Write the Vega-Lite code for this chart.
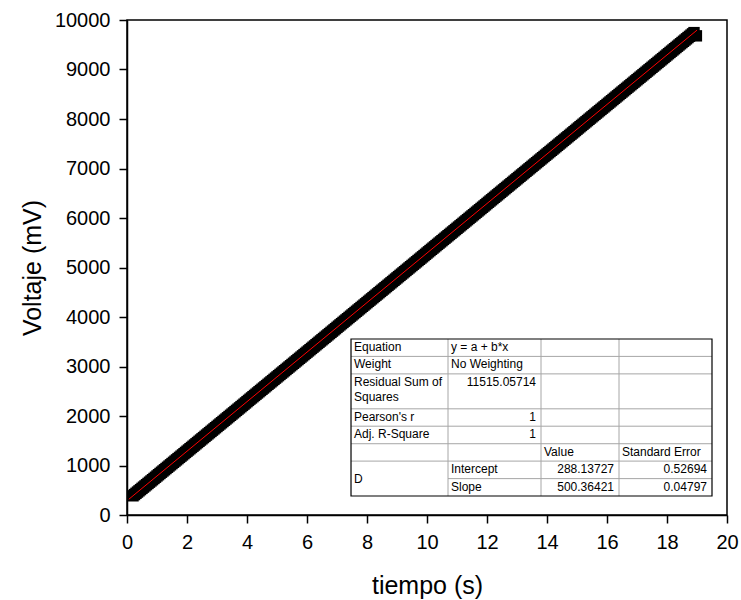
{
  "$schema": "https://vega.github.io/schema/vega-lite/v6.json",
  "width": 600,
  "height": 495,
  "autosize": {"type": "none"},
  "padding": {"left": 127, "top": 20, "right": 14, "bottom": 85},
  "background": "white",
  "config": {
    "view": {"stroke": "black", "strokeWidth": 1.5},
    "font": "Liberation Sans",
    "axis": {
      "grid": false,
      "domainColor": "black",
      "domainWidth": 1.5,
      "tickColor": "black",
      "tickWidth": 1.5,
      "labelColor": "black",
      "labelFont": "Liberation Sans",
      "labelFontSize": 20,
      "labelPadding": 9,
      "labelOverlap": false,
      "labelFlush": false,
      "titleColor": "black",
      "titleFont": "Liberation Sans",
      "titleFontSize": 25,
      "titleFontWeight": "normal"
    }
  },
  "datasets": {
    "meas": [
      {"t":0.2,"v":388},{"t":0.25,"v":413},{"t":0.3,"v":438},{"t":0.35,"v":463},{"t":0.4,"v":488},{"t":0.45,"v":513},{"t":0.5,"v":538},{"t":0.55,"v":563},{"t":0.6,"v":588},{"t":0.65,"v":613},{"t":0.7,"v":638},{"t":0.75,"v":663},{"t":0.8,"v":688},{"t":0.85,"v":713},{"t":0.9,"v":738},{"t":0.95,"v":763},
      {"t":1.0,"v":789},{"t":1.05,"v":814},{"t":1.1,"v":839},{"t":1.15,"v":864},{"t":1.2,"v":889},{"t":1.25,"v":914},{"t":1.3,"v":939},{"t":1.35,"v":964},{"t":1.4,"v":989},{"t":1.45,"v":1014},{"t":1.5,"v":1039},{"t":1.55,"v":1064},{"t":1.6,"v":1089},{"t":1.65,"v":1114},{"t":1.7,"v":1139},{"t":1.75,"v":1164},{"t":1.8,"v":1189},{"t":1.85,"v":1214},{"t":1.9,"v":1239},{"t":1.95,"v":1264},
      {"t":2.0,"v":1289},{"t":2.05,"v":1314},{"t":2.1,"v":1339},{"t":2.15,"v":1364},{"t":2.2,"v":1389},{"t":2.25,"v":1414},{"t":2.3,"v":1439},{"t":2.35,"v":1464},{"t":2.4,"v":1489},{"t":2.45,"v":1514},{"t":2.5,"v":1539},{"t":2.55,"v":1564},{"t":2.6,"v":1589},{"t":2.65,"v":1614},{"t":2.7,"v":1639},{"t":2.75,"v":1664},{"t":2.8,"v":1689},{"t":2.85,"v":1714},{"t":2.9,"v":1739},{"t":2.95,"v":1764},
      {"t":3.0,"v":1789},{"t":3.05,"v":1814},{"t":3.1,"v":1839},{"t":3.15,"v":1864},{"t":3.2,"v":1889},{"t":3.25,"v":1914},{"t":3.3,"v":1939},{"t":3.35,"v":1964},{"t":3.4,"v":1989},{"t":3.45,"v":2014},{"t":3.5,"v":2039},{"t":3.55,"v":2064},{"t":3.6,"v":2089},{"t":3.65,"v":2114},{"t":3.7,"v":2139},{"t":3.75,"v":2164},{"t":3.8,"v":2189},{"t":3.85,"v":2214},{"t":3.9,"v":2239},{"t":3.95,"v":2264},
      {"t":4.0,"v":2290},{"t":4.05,"v":2315},{"t":4.1,"v":2340},{"t":4.15,"v":2365},{"t":4.2,"v":2390},{"t":4.25,"v":2415},{"t":4.3,"v":2440},{"t":4.35,"v":2465},{"t":4.4,"v":2490},{"t":4.45,"v":2515},{"t":4.5,"v":2540},{"t":4.55,"v":2565},{"t":4.6,"v":2590},{"t":4.65,"v":2615},{"t":4.7,"v":2640},{"t":4.75,"v":2665},{"t":4.8,"v":2690},{"t":4.85,"v":2715},{"t":4.9,"v":2740},{"t":4.95,"v":2765},
      {"t":5.0,"v":2790},{"t":5.05,"v":2815},{"t":5.1,"v":2840},{"t":5.15,"v":2865},{"t":5.2,"v":2890},{"t":5.25,"v":2915},{"t":5.3,"v":2940},{"t":5.35,"v":2965},{"t":5.4,"v":2990},{"t":5.45,"v":3015},{"t":5.5,"v":3040},{"t":5.55,"v":3065},{"t":5.6,"v":3090},{"t":5.65,"v":3115},{"t":5.7,"v":3140},{"t":5.75,"v":3165},{"t":5.8,"v":3190},{"t":5.85,"v":3215},{"t":5.9,"v":3240},{"t":5.95,"v":3265},
      {"t":6.0,"v":3290},{"t":6.05,"v":3315},{"t":6.1,"v":3340},{"t":6.15,"v":3365},{"t":6.2,"v":3390},{"t":6.25,"v":3415},{"t":6.3,"v":3440},{"t":6.35,"v":3465},{"t":6.4,"v":3490},{"t":6.45,"v":3515},{"t":6.5,"v":3540},{"t":6.55,"v":3565},{"t":6.6,"v":3590},{"t":6.65,"v":3615},{"t":6.7,"v":3640},{"t":6.75,"v":3665},{"t":6.8,"v":3690},{"t":6.85,"v":3715},{"t":6.9,"v":3740},{"t":6.95,"v":3765},
      {"t":7.0,"v":3791},{"t":7.05,"v":3816},{"t":7.1,"v":3841},{"t":7.15,"v":3866},{"t":7.2,"v":3891},{"t":7.25,"v":3916},{"t":7.3,"v":3941},{"t":7.35,"v":3966},{"t":7.4,"v":3991},{"t":7.45,"v":4016},{"t":7.5,"v":4041},{"t":7.55,"v":4066},{"t":7.6,"v":4091},{"t":7.65,"v":4116},{"t":7.7,"v":4141},{"t":7.75,"v":4166},{"t":7.8,"v":4191},{"t":7.85,"v":4216},{"t":7.9,"v":4241},{"t":7.95,"v":4266},
      {"t":8.0,"v":4291},{"t":8.05,"v":4316},{"t":8.1,"v":4341},{"t":8.15,"v":4366},{"t":8.2,"v":4391},{"t":8.25,"v":4416},{"t":8.3,"v":4441},{"t":8.35,"v":4466},{"t":8.4,"v":4491},{"t":8.45,"v":4516},{"t":8.5,"v":4541},{"t":8.55,"v":4566},{"t":8.6,"v":4591},{"t":8.65,"v":4616},{"t":8.7,"v":4641},{"t":8.75,"v":4666},{"t":8.8,"v":4691},{"t":8.85,"v":4716},{"t":8.9,"v":4741},{"t":8.95,"v":4766},
      {"t":9.0,"v":4791},{"t":9.05,"v":4816},{"t":9.1,"v":4841},{"t":9.15,"v":4866},{"t":9.2,"v":4891},{"t":9.25,"v":4916},{"t":9.3,"v":4941},{"t":9.35,"v":4966},{"t":9.4,"v":4991},{"t":9.45,"v":5016},{"t":9.5,"v":5041},{"t":9.55,"v":5066},{"t":9.6,"v":5091},{"t":9.65,"v":5116},{"t":9.7,"v":5141},{"t":9.75,"v":5166},{"t":9.8,"v":5191},{"t":9.85,"v":5216},{"t":9.9,"v":5241},{"t":9.95,"v":5266},
      {"t":10.0,"v":5292},{"t":10.05,"v":5317},{"t":10.1,"v":5342},{"t":10.15,"v":5367},{"t":10.2,"v":5392},{"t":10.25,"v":5417},{"t":10.3,"v":5442},{"t":10.35,"v":5467},{"t":10.4,"v":5492},{"t":10.45,"v":5517},{"t":10.5,"v":5542},{"t":10.55,"v":5567},{"t":10.6,"v":5592},{"t":10.65,"v":5617},{"t":10.7,"v":5642},{"t":10.75,"v":5667},{"t":10.8,"v":5692},{"t":10.85,"v":5717},{"t":10.9,"v":5742},{"t":10.95,"v":5767},
      {"t":11.0,"v":5792},{"t":11.05,"v":5817},{"t":11.1,"v":5842},{"t":11.15,"v":5867},{"t":11.2,"v":5892},{"t":11.25,"v":5917},{"t":11.3,"v":5942},{"t":11.35,"v":5967},{"t":11.4,"v":5992},{"t":11.45,"v":6017},{"t":11.5,"v":6042},{"t":11.55,"v":6067},{"t":11.6,"v":6092},{"t":11.65,"v":6117},{"t":11.7,"v":6142},{"t":11.75,"v":6167},{"t":11.8,"v":6192},{"t":11.85,"v":6217},{"t":11.9,"v":6242},{"t":11.95,"v":6267},
      {"t":12.0,"v":6293},{"t":12.05,"v":6318},{"t":12.1,"v":6343},{"t":12.15,"v":6368},{"t":12.2,"v":6393},{"t":12.25,"v":6418},{"t":12.3,"v":6443},{"t":12.35,"v":6468},{"t":12.4,"v":6493},{"t":12.45,"v":6518},{"t":12.5,"v":6543},{"t":12.55,"v":6568},{"t":12.6,"v":6593},{"t":12.65,"v":6618},{"t":12.7,"v":6643},{"t":12.75,"v":6668},{"t":12.8,"v":6693},{"t":12.85,"v":6718},{"t":12.9,"v":6743},{"t":12.95,"v":6768},
      {"t":13.0,"v":6793},{"t":13.05,"v":6818},{"t":13.1,"v":6843},{"t":13.15,"v":6868},{"t":13.2,"v":6893},{"t":13.25,"v":6918},{"t":13.3,"v":6943},{"t":13.35,"v":6968},{"t":13.4,"v":6993},{"t":13.45,"v":7018},{"t":13.5,"v":7043},{"t":13.55,"v":7068},{"t":13.6,"v":7093},{"t":13.65,"v":7118},{"t":13.7,"v":7143},{"t":13.75,"v":7168},{"t":13.8,"v":7193},{"t":13.85,"v":7218},{"t":13.9,"v":7243},{"t":13.95,"v":7268},
      {"t":14.0,"v":7293},{"t":14.05,"v":7318},{"t":14.1,"v":7343},{"t":14.15,"v":7368},{"t":14.2,"v":7393},{"t":14.25,"v":7418},{"t":14.3,"v":7443},{"t":14.35,"v":7468},{"t":14.4,"v":7493},{"t":14.45,"v":7518},{"t":14.5,"v":7543},{"t":14.55,"v":7568},{"t":14.6,"v":7593},{"t":14.65,"v":7618},{"t":14.7,"v":7643},{"t":14.75,"v":7668},{"t":14.8,"v":7693},{"t":14.85,"v":7718},{"t":14.9,"v":7743},{"t":14.95,"v":7768},
      {"t":15.0,"v":7794},{"t":15.05,"v":7819},{"t":15.1,"v":7844},{"t":15.15,"v":7869},{"t":15.2,"v":7894},{"t":15.25,"v":7919},{"t":15.3,"v":7944},{"t":15.35,"v":7969},{"t":15.4,"v":7994},{"t":15.45,"v":8019},{"t":15.5,"v":8044},{"t":15.55,"v":8069},{"t":15.6,"v":8094},{"t":15.65,"v":8119},{"t":15.7,"v":8144},{"t":15.75,"v":8169},{"t":15.8,"v":8194},{"t":15.85,"v":8219},{"t":15.9,"v":8244},{"t":15.95,"v":8269},
      {"t":16.0,"v":8294},{"t":16.05,"v":8319},{"t":16.1,"v":8344},{"t":16.15,"v":8369},{"t":16.2,"v":8394},{"t":16.25,"v":8419},{"t":16.3,"v":8444},{"t":16.35,"v":8469},{"t":16.4,"v":8494},{"t":16.45,"v":8519},{"t":16.5,"v":8544},{"t":16.55,"v":8569},{"t":16.6,"v":8594},{"t":16.65,"v":8619},{"t":16.7,"v":8644},{"t":16.75,"v":8669},{"t":16.8,"v":8694},{"t":16.85,"v":8719},{"t":16.9,"v":8744},{"t":16.95,"v":8769},
      {"t":17.0,"v":8794},{"t":17.05,"v":8819},{"t":17.1,"v":8844},{"t":17.15,"v":8869},{"t":17.2,"v":8894},{"t":17.25,"v":8919},{"t":17.3,"v":8944},{"t":17.35,"v":8969},{"t":17.4,"v":8994},{"t":17.45,"v":9019},{"t":17.5,"v":9044},{"t":17.55,"v":9069},{"t":17.6,"v":9094},{"t":17.65,"v":9119},{"t":17.7,"v":9144},{"t":17.75,"v":9169},{"t":17.8,"v":9194},{"t":17.85,"v":9219},{"t":17.9,"v":9244},{"t":17.95,"v":9269},
      {"t":18.0,"v":9295},{"t":18.05,"v":9320},{"t":18.1,"v":9345},{"t":18.15,"v":9370},{"t":18.2,"v":9395},{"t":18.25,"v":9420},{"t":18.3,"v":9445},{"t":18.35,"v":9470},{"t":18.4,"v":9495},{"t":18.45,"v":9520},{"t":18.5,"v":9545},{"t":18.55,"v":9570},{"t":18.6,"v":9595},{"t":18.65,"v":9620},{"t":18.7,"v":9645},{"t":18.75,"v":9670},{"t":18.8,"v":9695},{"t":18.85,"v":9720},{"t":18.9,"v":9745},
      {"t":18.98,"v":9680}
    ],
    "fit": [
      {"t": 0.06, "v": 318},
      {"t": 19.0, "v": 9795}
    ],
    "box": [
      {"x1": 7.467, "x2": 19.5, "y1": 3556, "y2": 384}
    ],
    "lines": [
      {"x1": 7.467, "x2": 19.5, "y1": 3204, "y2": 3204},
      {"x1": 7.467, "x2": 19.5, "y1": 2851, "y2": 2851},
      {"x1": 7.467, "x2": 19.5, "y1": 2145, "y2": 2145},
      {"x1": 7.467, "x2": 19.5, "y1": 1794, "y2": 1794},
      {"x1": 7.467, "x2": 19.5, "y1": 1440, "y2": 1440},
      {"x1": 7.467, "x2": 19.5, "y1": 1089, "y2": 1089},
      {"x1": 10.7, "x2": 19.5, "y1": 735, "y2": 735},
      {"x1": 10.7, "x2": 10.7, "y1": 3556, "y2": 384},
      {"x1": 13.8, "x2": 13.8, "y1": 3556, "y2": 384},
      {"x1": 16.4, "x2": 16.4, "y1": 3556, "y2": 384}
    ],
    "leftText": [
      {"label": "Equation", "x": 7.467, "y": 3556},
      {"label": "y = a + b*x", "x": 10.7, "y": 3556},
      {"label": "Weight", "x": 7.467, "y": 3204},
      {"label": "No Weighting", "x": 10.7, "y": 3204},
      {"label": "Residual Sum of\nSquares", "x": 7.467, "y": 2851},
      {"label": "Pearson's r", "x": 7.467, "y": 2145},
      {"label": "Adj. R-Square", "x": 7.467, "y": 1794},
      {"label": "Value", "x": 13.8, "y": 1440},
      {"label": "Standard Error", "x": 16.4, "y": 1440},
      {"label": "Intercept", "x": 10.7, "y": 1089},
      {"label": "Slope", "x": 10.7, "y": 735}
    ],
    "rightText": [
      {"label": "11515.05714", "x": 13.8, "y": 2851},
      {"label": "1", "x": 13.8, "y": 2145},
      {"label": "1", "x": 13.8, "y": 1794},
      {"label": "288.13727", "x": 16.4, "y": 1089},
      {"label": "0.52694", "x": 19.5, "y": 1089},
      {"label": "500.36421", "x": 16.4, "y": 735},
      {"label": "0.04797", "x": 19.5, "y": 735}
    ],
    "groupText": [
      {"label": "D", "x": 7.467, "y": 736.5}
    ]
  },
  "layer": [
    {
      "data": {"name": "meas"},
      "mark": {"type": "point", "shape": "square", "filled": true, "color": "black", "size": 130, "opacity": 1},
      "encoding": {
        "x": {
          "field": "t", "type": "quantitative",
          "scale": {"domain": [0, 20], "nice": false, "zero": false},
          "axis": {
            "title": "tiempo (s)",
            "values": [0,1,2,3,4,5,6,7,8,9,10,11,12,13,14,15,16,17,18,19,20],
            "labelExpr": "datum.value % 2 === 0 ? datum.label : ''",
            "tickSize": {"condition": {"test": "datum.value % 2 !== 0", "value": 4}, "value": 8},
            "titlePadding": 21
          }
        },
        "y": {
          "field": "v", "type": "quantitative",
          "scale": {"domain": [0, 10000], "nice": false},
          "axis": {
            "title": "Voltaje (mV)",
            "format": "d",
            "values": [0,500,1000,1500,2000,2500,3000,3500,4000,4500,5000,5500,6000,6500,7000,7500,8000,8500,9000,9500,10000],
            "labelExpr": "datum.value % 1000 === 0 ? datum.label : ''",
            "tickSize": {"condition": {"test": "datum.value % 1000 !== 0", "value": 4}, "value": 8},
            "titlePadding": 9
          }
        }
      }
    },
    {
      "data": {"name": "fit"},
      "mark": {"type": "line", "color": "#ff0000", "strokeWidth": 1},
      "encoding": {
        "x": {"field": "t", "type": "quantitative"},
        "y": {"field": "v", "type": "quantitative"}
      }
    },
    {
      "data": {"name": "box"},
      "mark": {"type": "rect", "fill": "white", "stroke": null},
      "encoding": {
        "x": {"field": "x1", "type": "quantitative"},
        "x2": {"field": "x2"},
        "y": {"field": "y1", "type": "quantitative"},
        "y2": {"field": "y2"}
      }
    },
    {
      "data": {"name": "lines"},
      "mark": {"type": "rule", "color": "#a6a6a6", "strokeWidth": 1},
      "encoding": {
        "x": {"field": "x1", "type": "quantitative"},
        "x2": {"field": "x2"},
        "y": {"field": "y1", "type": "quantitative"},
        "y2": {"field": "y2"}
      }
    },
    {
      "data": {"name": "box"},
      "mark": {"type": "rect", "fill": null, "fillOpacity": 0, "stroke": "black", "strokeWidth": 1.2},
      "encoding": {
        "x": {"field": "x1", "type": "quantitative"},
        "x2": {"field": "x2"},
        "y": {"field": "y1", "type": "quantitative"},
        "y2": {"field": "y2"}
      }
    },
    {
      "data": {"name": "leftText"},
      "mark": {"type": "text", "align": "left", "baseline": "top", "dx": 3, "dy": 3, "fontSize": 12, "font": "Liberation Sans", "color": "black", "lineBreak": "\n", "lineHeight": 15.5},
      "encoding": {
        "x": {"field": "x", "type": "quantitative"},
        "y": {"field": "y", "type": "quantitative"},
        "text": {"field": "label"}
      }
    },
    {
      "data": {"name": "rightText"},
      "mark": {"type": "text", "align": "right", "baseline": "top", "dx": -5, "dy": 3, "fontSize": 12, "font": "Liberation Sans", "color": "black"},
      "encoding": {
        "x": {"field": "x", "type": "quantitative"},
        "y": {"field": "y", "type": "quantitative"},
        "text": {"field": "label"}
      }
    },
    {
      "data": {"name": "groupText"},
      "mark": {"type": "text", "align": "left", "baseline": "middle", "dx": 3, "fontSize": 12, "font": "Liberation Sans", "color": "black"},
      "encoding": {
        "x": {"field": "x", "type": "quantitative"},
        "y": {"field": "y", "type": "quantitative"},
        "text": {"field": "label"}
      }
    }
  ]
}
